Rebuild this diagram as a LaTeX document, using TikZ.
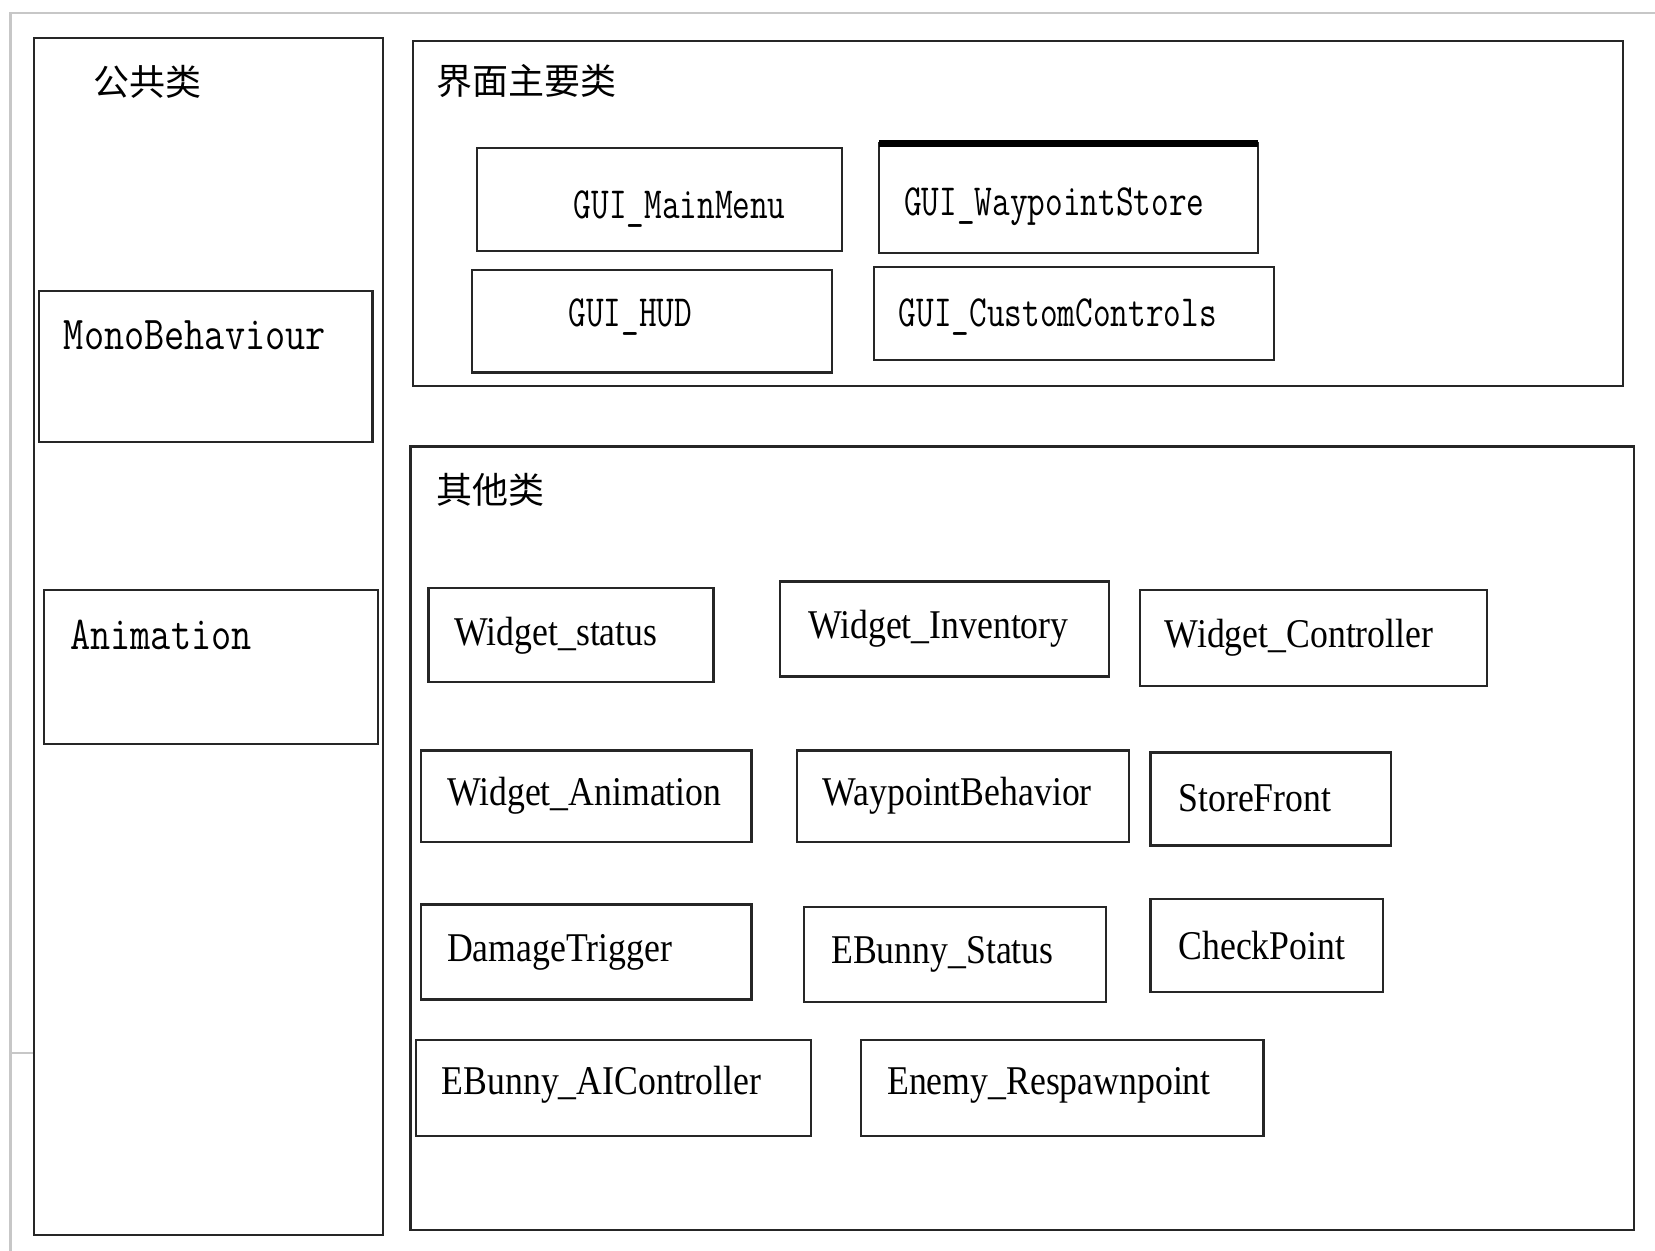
\documentclass[tikz,border=0pt]{standalone}
\usepackage{fontspec}
\setmainfont{Liberation Serif}
\newfontfamily\cjk{Noto Sans CJK SC}
\usetikzlibrary{fit}
\begin{document}
\begin{tikzpicture}[x=0.01cm,y=-0.01cm,
  box/.style={draw=black!85, line width=0.6pt, inner sep=0pt, outer sep=0pt},
  frameline/.style={draw=black!22, line width=0.6pt},
  cn/.style={anchor=west, inner sep=0pt, font=\cjk\fontsize{9.7}{10}\selectfont},
  mono/.style={anchor=west, inner sep=0pt, font=\ttfamily\fontsize{12}{12}\selectfont, xscale=0.77},
  monobig/.style={anchor=west, inner sep=0pt, font=\ttfamily\fontsize{12.7}{13}\selectfont, xscale=0.83},
  serif/.style={anchor=west, inner sep=0pt, font=\fontsize{11}{11}\selectfont, xscale=0.875}]
\useasboundingbox[fill=white] (0,0) rectangle (1568,1185);
% faint page frame
\coordinate (f1) at (10,1185);
\coordinate (f2) at (10,12);
\coordinate (f3) at (1568,12);
\coordinate (s1) at (10,998);
\coordinate (s2) at (32,998);
\draw[frameline] (f1) -- (f2) -- (f3);
\draw[frameline] (s1) -- (s2);
% group boxes
\node[box, fit={(32,36) (363,1170)}] (pub) {};
\node[box, fit={(391,39) (1538,366)}] (gui) {};
\node[box, fit={(389,423) (1548,1165)}] (other) {};
% public classes
\node[box, fit={(37,276) (353,419)}] (mono) {};
\node[box, fit={(42,559) (358,705)}] (anim) {};
% GUI classes
\node[box, fit={(452,140) (798,238)}] (mm) {};
\node[box, fit={(833,136) (1192,240)}] (ws) {};
\draw[line width=2pt] (ws.north west) -- (ws.north east);
\node[box, fit={(447,256) (788,353)}] (hud) {};
\node[box, fit={(828,253) (1207,341)}] (cc) {};
% other classes
\node[box, fit={(406,557) (676,646)}] (wst) {};
\node[box, fit={(739,551) (1051,641)}] (wi) {};
\node[box, fit={(1080,559) (1409,650)}] (wc) {};
\node[box, fit={(399,711) (712,798)}] (wa) {};
\node[box, fit={(755,711) (1070,798)}] (wb) {};
\node[box, fit={(1090,713) (1318,801)}] (sf) {};
\node[box, fit={(399,857) (712,947)}] (dt) {};
\node[box, fit={(762,859) (1048,949)}] (es) {};
\node[box, fit={(1090,852) (1310,940)}] (cp) {};
\node[box, fit={(394,985) (768,1076)}] (eai) {};
\node[box, fit={(816,985) (1197,1076)}] (er) {};
% titles
\node[cn] (t-pub) at (88,78) {公共类};
\node[cn] (t-gui) at (413,77) {界面主要类};
\node[cn] (t-other) at (413,464) {其他类};
% texts
\node[monobig] (t-mono) at (60,318) {MonoBehaviour};
\node[monobig] (t-anim) at (66,602) {Animation};
\node[mono] (t-mm) at (543,198) {GUI\_MainMenu};
\node[mono] (t-ws) at (856,196) {GUI\_WaypointStore};
\node[mono] (t-hud) at (538,300) {GUI\_HUD};
\node[mono] (t-cc) at (851,300) {GUI\_CustomControls};
\node[serif] (t-wst) at (430,602) {Widget\_status};
\node[serif] (t-wi) at (765,596) {Widget\_Inventory};
\node[serif] (t-wc) at (1103,604) {Widget\_Controller};
\node[serif] (t-wa) at (423,754) {Widget\_Animation};
\node[serif] (t-wb) at (779,754) {WaypointBehavior};
\node[serif] (t-sf) at (1116,756) {StoreFront};
\node[serif] (t-dt) at (423,902) {DamageTrigger};
\node[serif] (t-es) at (787,904) {EBunny\_Status};
\node[serif] (t-cp) at (1116,896) {CheckPoint};
\node[serif] (t-eai) at (418,1028) {EBunny\_AIController};
\node[serif] (t-er) at (840,1028) {Enemy\_Respawnpoint};
\end{tikzpicture}
\end{document}
